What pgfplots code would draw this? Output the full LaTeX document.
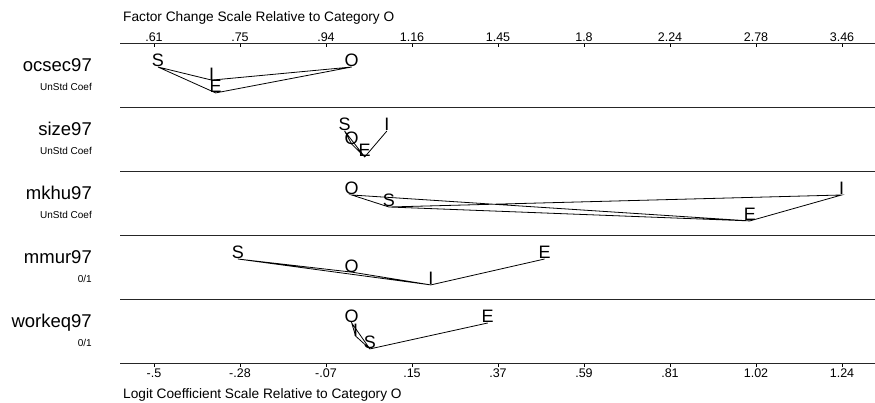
\documentclass[border=0pt]{standalone}
\usepackage{fontspec}
\setmainfont{Liberation Sans}
\usepackage{pgfplots}
\pgfplotsset{compat=1.18}
\newcommand{\fs}[1]{\fontsize{#1}{#1}\selectfont}

\begin{document}
\begin{tikzpicture}
\useasboundingbox (0pt,0pt) rectangle (875pt,403pt);
\pgfplotsset{base/.style={at={(120pt,40pt)}, anchor=south west, scale only axis,
  width=755pt, height=320pt, xmin=-0.586, xmax=1.3235, ymin=0, ymax=5,
  axis y line=none, ytick=\empty,
  xtick={-0.5,-0.2825,-0.065,0.1525,0.37,0.5875,0.805,1.0225,1.24},
  major tick length=4pt, tick style={black, line width=0.6pt},
  axis line style={black!85, line width=0.9pt},
  xticklabel style={font=\fs{12.5}, inner sep=1.5pt}, clip=false}}

% bottom axis with data
\begin{axis}[base, axis x line*=bottom, tick align=outside,
  xticklabels={-.5,-.28,-.07,.15,.37,.59,.81,1.02,1.24}]
  \draw[black!85, line width=0.9pt] (rel axis cs:0,0.2) -- (rel axis cs:1,0.2);
  \draw[black!85, line width=0.9pt] (rel axis cs:0,0.4) -- (rel axis cs:1,0.4);
  \draw[black!85, line width=0.9pt] (rel axis cs:0,0.6) -- (rel axis cs:1,0.6);
  \draw[black!85, line width=0.9pt] (rel axis cs:0,0.8) -- (rel axis cs:1,0.8);
  % connecting lines
  \addplot[black, line width=0.8pt, mark=none] coordinates {
    (-0.490,4.625) (-0.354,4.42) (0,4.625) (-0.344,4.22) (-0.490,4.625)};
  \addplot[black, line width=0.8pt, mark=none] coordinates {
    (0.089,3.625) (0.033,3.22) (-0.018,3.625) (0,3.42) (0.033,3.22)};
  \addplot[black, line width=0.8pt, mark=none] coordinates {
    (0.094,2.4375) (0,2.625) (1.007,2.22) (0.094,2.4375) (1.239,2.625) (1.007,2.22)};
  \addplot[black, line width=0.8pt, mark=none] coordinates {
    (0.488,1.625) (0.200,1.22) (-0.288,1.625) (0,1.42) (0.200,1.22)};
  \addplot[black, line width=0.8pt, mark=none] coordinates {
    (0.344,0.625) (0.046,0.22) (0,0.625) (0.010,0.42) (0.046,0.22)};
  % category letters
  \addplot[only marks, mark=none, nodes near coords, point meta=explicit symbolic,
    nodes near coords align={anchor=base},
    every node near coord/.append style={inner sep=0pt, font=\fs{18}, text=black}]
    table[meta=l] {
x y l
-0.490 4.625 S
-0.354 4.42 I
-0.344 4.22 E
0 4.625 O
-0.018 3.625 S
0 3.42 O
0.033 3.22 E
0.089 3.625 I
0 2.625 O
0.094 2.4375 S
1.007 2.22 E
1.239 2.625 I
-0.288 1.625 S
0 1.42 O
0.200 1.22 I
0.488 1.625 E
0 0.625 O
0.010 0.42 I
0.046 0.22 S
0.344 0.625 E
};
\end{axis}

% top axis: factor change scale
\begin{axis}[base, axis x line*=top, tick align=inside,
  xticklabels={.61,.75,.94,1.16,1.45,1.8,2.24,2.78,3.46}]
  \addplot[draw=none, mark=none] coordinates {(0,0)};
\end{axis}

% axis titles
\node[anchor=base west, inner sep=0pt, font=\fs{13.7}] at (123pt,381pt) {Factor Change Scale Relative to Category O};
\node[anchor=base west, inner sep=0pt, font=\fs{13.7}] at (123pt,4pt) {Logit Coefficient Scale Relative to Category O};

% variable labels
\foreach \name/\sub/\t in {ocsec97/UnStd Coef/43, size97/UnStd Coef/107, mkhu97/UnStd Coef/171, mmur97/0\slash 1/235, workeq97/0\slash 1/299}{
  \node[anchor=base east, inner sep=0pt, font=\fs{18.5}] at (92pt,{(403-\t-29)*1pt}) {\name};
  \node[anchor=base east, inner sep=0pt, font=\fs{10}] at (92pt,{(403-\t-48)*1pt}) {\sub};
}
\end{tikzpicture}
\end{document}
